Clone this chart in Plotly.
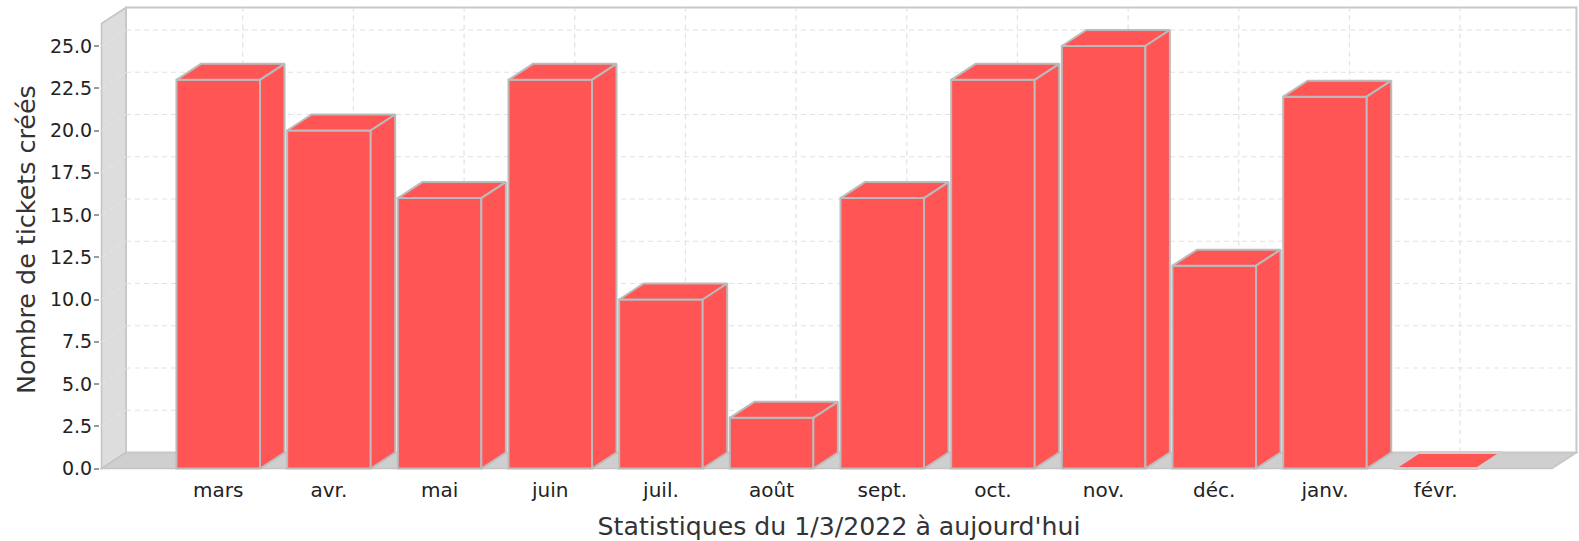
"""Tickets created per month, drawn as a JFreeChart-style 3D bar chart."""
import plotly.graph_objects as go

months = ["mars", "avr.", "mai", "juin", "juil.", "août", "sept.", "oct.", "nov.", "déc.", "janv.", "févr."]
tickets = [23, 20, 16, 23, 10, 3, 16, 23, 25, 12, 22, 0]
y_ticks = [0, 2.5, 5, 7.5, 10, 12.5, 15, 17.5, 20, 22.5, 25]

RED = "#FF5555"
EDGE = "#BBBBBB"
GRID = "#E2E2E2"
FLOOR = "#CFCFCF"
BAR_WIDTH = 0.755

# pixel scale of the axes, used to size the fake depth
WIDTH, HEIGHT = 1579, 541
PX_X = 110.67
PX_Y = 16.9
LEFT, RIGHT, TOP, BOTTOM = 100, 1578, 5, 471
Y_ZERO = 468.5

dx = 24.5 / PX_X
dy = 16 / PX_Y
x_min = -1.055
x_front = 11 + 1.051
x_max = x_front + dx
y_top = (Y_ZERO - 7.5) / PX_Y

x_range = [x_min - (101.5 - LEFT) / PX_X, x_min + (RIGHT - 101.5) / PX_X]
y_range = [-(BOTTOM - Y_ZERO) / PX_Y, (Y_ZERO - TOP) / PX_Y]


def polygon(points):
    return "M " + " L ".join(f"{x},{y}" for x, y in points) + " Z"


shapes = [
    # left wall
    dict(type="path", layer="below", fillcolor="#DDDDDD", line=dict(color="#C4C4C4", width=1.5),
         path=polygon([(x_min, 0), (x_min + dx, dy), (x_min + dx, y_top), (x_min, y_top - dy)])),
    # floor
    dict(type="path", layer="below", fillcolor=FLOOR, line=dict(color="#C4C4C4", width=1.5),
         path=polygon([(x_min, 0), (x_front, 0), (x_max, dy), (x_min + dx, dy)])),
    # back wall
    dict(type="path", layer="below", fillcolor="white", line=dict(color="#C8C8C8", width=2),
         path=polygon([(x_min + dx, dy), (x_max, dy), (x_max, y_top), (x_min + dx, y_top)])),
]

# grid on the back wall, running onto the left wall
for tick in y_ticks[1:]:
    shapes.append(dict(type="line", layer="below", x0=x_min + dx, x1=x_max, y0=tick + dy, y1=tick + dy,
                       line=dict(color=GRID, width=1.2, dash="5px,4px")))
    shapes.append(dict(type="line", layer="below", x0=x_min, x1=x_min + dx, y0=tick, y1=tick + dy,
                       line=dict(color="#E6E6E6", width=1, dash="5px,4px")))
for i in range(len(months)):
    shapes.append(dict(type="line", layer="below", x0=i + dx, x1=i + dx, y0=dy, y1=y_top,
                       line=dict(color=GRID, width=1.2, dash="5px,4px")))

fig = go.Figure()

fig.add_trace(go.Bar(
    x=list(range(len(months))),
    y=tickets,
    width=BAR_WIDTH,
    marker=dict(color=RED, line=dict(color=EDGE, width=[2 if v else 0 for v in tickets])),
    hoverinfo="skip",
))

# top and side faces of each bar, offset from the bar values
for i, value in enumerate(tickets):
    x0 = i - BAR_WIDTH / 2
    x1 = i + BAR_WIDTH / 2
    edge = dict(color=EDGE, width=2) if value else dict(color=FLOOR, width=3)
    fig.add_trace(go.Scatter(
        x=[x0, x1, x1 + dx, x0 + dx, x0],
        y=[value, value, value + dy, value + dy, value],
        mode="lines", fill="toself", fillcolor=RED, line=edge, hoverinfo="skip",
    ))
    if value:
        fig.add_trace(go.Scatter(
            x=[x1, x1 + dx, x1 + dx, x1, x1],
            y=[0, dy, value + dy, value, 0],
            mode="lines", fill="toself", fillcolor=RED, line=edge, hoverinfo="skip",
        ))

fig.update_layout(
    width=WIDTH,
    height=HEIGHT,
    margin=dict(l=LEFT, r=WIDTH - RIGHT, t=TOP, b=HEIGHT - BOTTOM, autoexpand=False),
    paper_bgcolor="white",
    plot_bgcolor="white",
    showlegend=False,
    font=dict(family="DejaVu Sans", size=19, color="#222222"),
    shapes=shapes,
    annotations=[dict(
        text="Nombre de tickets créés",
        textangle=-90,
        xref="paper", yref="paper",
        x=(25.2 - LEFT) / (RIGHT - LEFT),
        y=(BOTTOM - 239.7) / (BOTTOM - TOP),
        xanchor="center", yanchor="middle",
        showarrow=False,
        font=dict(size=25.4, color="#333333"),
    )],
)
fig.update_xaxes(
    range=x_range,
    tickmode="array",
    tickvals=list(range(len(months))),
    ticktext=months,
    showgrid=False,
    zeroline=False,
    ticks="outside",
    ticklen=1,
    tickcolor="rgba(0,0,0,0)",
    tickfont=dict(size=20),
    title=dict(text="Statistiques du 1/3/2022 à aujourd'hui", font=dict(size=25.2, color="#333333"), standoff=21),
)
fig.update_yaxes(
    range=y_range,
    tickmode="array",
    tickvals=y_ticks,
    ticktext=[f"{t:.1f}" for t in y_ticks],
    showgrid=False,
    zeroline=False,
    ticks="outside",
    ticklen=5,
    tickwidth=1.5,
    tickcolor="#9A9A9A",
    tickfont=dict(size=19),
    ticklabelstandoff=-2,
)

fig.write_html("out.html", config=dict(displayModeBar=False),
               post_script="document.body.style.margin='0';")
